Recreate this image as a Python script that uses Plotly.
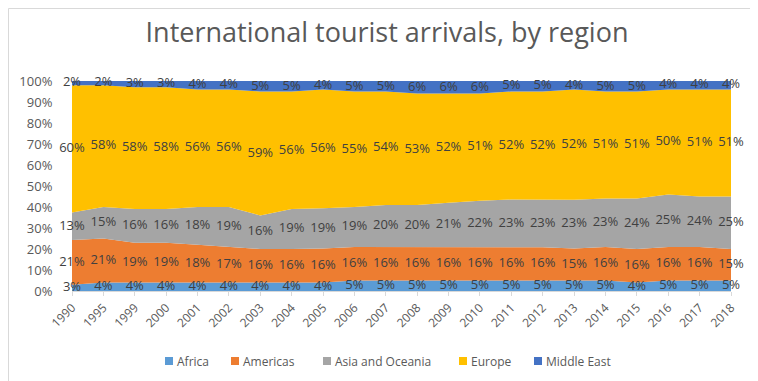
import numpy as np
import plotly.graph_objects as go

years = ["1990", "1995", "1999", "2000", "2001", "2002", "2003", "2004", "2005", "2006", "2007",
         "2008", "2009", "2010", "2011", "2012", "2013", "2014", "2015", "2016", "2017", "2018"]
africa = [3, 4, 4, 4, 4, 4, 4, 4, 4, 5, 5, 5, 5, 5, 5, 5, 5, 5, 4, 5, 5, 5]
americas = [21, 21, 19, 19, 18, 17, 16, 16, 16, 16, 16, 16, 16, 16, 16, 16, 15, 16, 16, 16, 16, 15]
asia_oceania = [13, 15, 16, 16, 18, 19, 16, 19, 19, 19, 20, 20, 21, 22, 23, 23, 23, 23, 24, 25, 24, 25]
europe = [60, 58, 58, 58, 56, 56, 59, 56, 56, 55, 54, 53, 52, 51, 52, 52, 52, 51, 51, 50, 51, 51]
middle_east = [2, 2, 3, 3, 4, 4, 5, 5, 4, 5, 5, 6, 6, 6, 5, 5, 4, 5, 5, 4, 4, 4]

series = [
    ("Africa", africa, "#5B9BD5"),
    ("Americas", americas, "#ED7D31"),
    ("Asia and Oceania", asia_oceania, "#A5A5A5"),
    ("Europe", europe, "#FFC000"),
    ("Middle East", middle_east, "#4472C4"),
]

# layout geometry (pixels)
W, H = 758, 381
L, R, T, B = 64, 35, 73, 98
PW, PH = W - L - R, H - T - B


def px_x(px):
    return (px - L) / PW


def px_y(py):
    return (H - B - py) / PH


x_idx = list(range(len(years)))
vals = np.array([s[1] for s in series], dtype=float)
share = vals / vals.sum(axis=0) * 100
cum = np.cumsum(share, axis=0)

fig = go.Figure()
for i, (name, v, col) in enumerate(series):
    fig.add_trace(go.Scatter(
        x=x_idx, y=share[i], name=name, mode="lines", stackgroup="one",
        line=dict(width=0, color=col), fillcolor=col, hoverinfo="skip",
        showlegend=False,
    ))

for i, (name, v, col) in enumerate(series):
    mid = cum[i] - share[i] / 2
    fig.add_trace(go.Scatter(
        x=x_idx, y=mid, mode="text", text=[f"{int(a)}%" for a in v],
        textposition="middle center", showlegend=False, hoverinfo="skip",
        textfont=dict(family="Open Sans", size=13, color="#404040"),
        cliponaxis=False,
    ))

# legend drawn manually (square swatches + labels)
legend_sq_x = [157, 223, 315, 451, 526]
shapes = [dict(type="rect", xref="paper", yref="paper",
               x0=px_x(0.5), x1=px_x(W - 0.5), y0=px_y(H - 0.5), y1=px_y(0.5),
               line=dict(color="#D9D9D9", width=1), fillcolor="rgba(0,0,0,0)")]
annotations = []
for (name, v, col), sx in zip(series, legend_sq_x):
    shapes.append(dict(type="rect", xref="paper", yref="paper",
                       x0=px_x(sx), x1=px_x(sx + 8), y0=px_y(357), y1=px_y(349),
                       line=dict(width=0), fillcolor=col))
    annotations.append(dict(text=name, xref="paper", yref="paper", x=px_x(sx + 10),
                            y=px_y(353), xanchor="left", yanchor="middle", showarrow=False,
                            font=dict(family="Open Sans", size=12, color="#595959")))

fig.update_layout(
    width=W, height=H,
    margin=dict(l=L, r=R, t=T, b=B),
    paper_bgcolor="white", plot_bgcolor="white",
    title=dict(text="International tourist arrivals, by region", x=0.5, xanchor="center",
               y=0.935, yanchor="middle",
               font=dict(family="Open Sans", size=27, color="#595959")),
    font=dict(family="Open Sans", color="#595959"),
    showlegend=False,
    xaxis=dict(range=[0, len(years) - 1], tickmode="array", tickvals=x_idx, ticktext=years,
               tickangle=-45, showgrid=False, zeroline=False, showline=True,
               linecolor="#D9D9D9", ticks="outside", ticklen=4, tickcolor="#D9D9D9",
               tickfont=dict(size=12, color="#595959")),
    yaxis=dict(range=[0, 100], tickvals=list(range(0, 101, 10)),
               ticktext=[f"{t}%" for t in range(0, 101, 10)], showgrid=False,
               zeroline=False, showline=False, ticks="outside", ticklen=16,
               tickcolor="rgba(0,0,0,0)",
               tickfont=dict(size=13, color="#595959")),
    shapes=shapes,
    annotations=annotations,
)

fig.write_html("out.html")
